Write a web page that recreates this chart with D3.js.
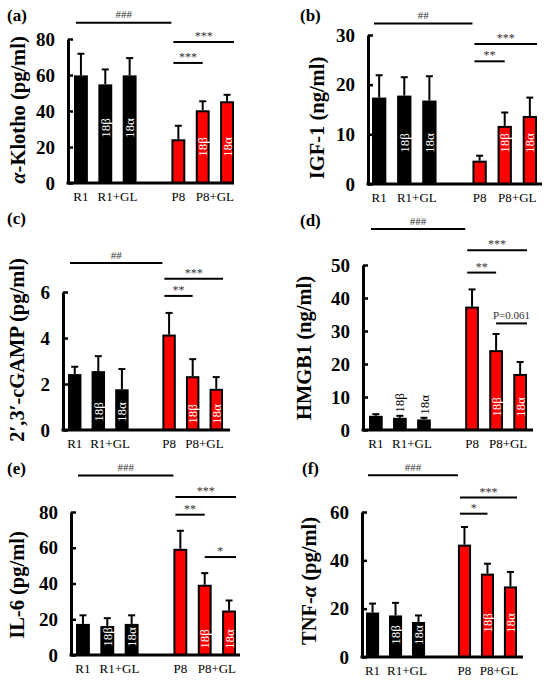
<!DOCTYPE html>
<html>
<head>
<meta charset="utf-8">
<script src="https://cdn.jsdelivr.net/npm/d3@7"></script>
<style>
body { margin: 0; background: #fff; }
</style>
</head>
<body>
<script>
// slots on the x axis, the 4th one is the empty gap between the two groups
var slots = ['R1', 'R1+GL 18β', 'R1+GL 18α', 'gap', 'P8', 'P8+GL 18β', 'P8+GL 18α'];
var barKeys = ['R1', 'R1+GL 18β', 'R1+GL 18α', 'P8', 'P8+GL 18β', 'P8+GL 18α'];
var barTags = ['', '18β', '18α', '', '18β', '18α'];
var groupLabels = ['R1', 'R1+GL', 'P8', 'P8+GL'];
var groupBars = [['R1'], ['R1+GL 18β', 'R1+GL 18α'], ['P8'], ['P8+GL 18β', 'P8+GL 18α']];

// (a) alpha-Klotho
var klothoMean = [59.8, 54.8, 59.8, 24.3, 40.4, 45.4];
var klothoSd = [12, 8.3, 9.6, 7.5, 5, 3.6];
var klothoTicks = [0, 20, 40, 60, 80];
var klothoSig = [['R1', 'P8', 89, '###'], ['P8', 'P8+GL 18α', 78.3, '***'], ['P8', 'P8+GL 18β', 66.7, '***']];

// (b) IGF-1
var igfMean = [17.4, 17.8, 16.8, 4.7, 11.7, 13.7];
var igfSd = [4.5, 3.7, 4.9, 1.0, 2.7, 3.7];
var igfTicks = [0, 10, 20, 30];
var igfSig = [['R1', 'P8', 32.3, '##'], ['P8', 'P8+GL 18α', 28.2, '***'], ['P8', 'P8+GL 18β', 24.7, '**']];

// (c) 2',3'-cGAMP
var cgampMean = [2.43, 2.56, 1.77, 4.15, 2.34, 1.79];
var cgampSd = [0.32, 0.65, 0.88, 0.94, 0.74, 0.51];
var cgampTicks = [0, 2, 4, 6];
var cgampSig = [['R1', 'P8', 7.26, '##'], ['P8', 'P8+GL 18α', 6.58, '***'], ['P8', 'P8+GL 18β', 5.83, '**']];

// (d) HMGB1
var hmgbMean = [4.3, 3.7, 3.2, 37.4, 24.2, 17];
var hmgbSd = [0.5, 0.6, 0.5, 5.2, 4.9, 3.6];
var hmgbTicks = [0, 10, 20, 30, 40, 50];
var hmgbSig = [['R1', 'P8', 60.9, '###'], ['P8', 'P8+GL 18α', 54.5, '***'], ['P8', 'P8+GL 18β', 47.7, '**'], ['P8+GL 18β', 'P8+GL 18α', 32.3, 'P=0.061']];

// (e) IL-6
var il6Mean = [17.4, 16.2, 17.4, 59.4, 39.3, 24.9];
var il6Sd = [4.8, 4.4, 4.8, 10.1, 6.5, 5.6];
var il6Ticks = [0, 20, 40, 60, 80];
var il6Sig = [['R1', 'P8', 100.4, '###'], ['P8', 'P8+GL 18α', 88.4, '***'], ['P8', 'P8+GL 18β', 78.5, '**'], ['P8+GL 18β', 'P8+GL 18α', 54.8, '*']];

// (f) TNF-alpha
var tnfMean = [18.4, 17.2, 14.5, 46.5, 34.5, 29.2];
var tnfSd = [3.7, 5.2, 2.7, 7.3, 4.1, 6];
var tnfTicks = [0, 20, 40, 60];
var tnfSig = [['R1', 'P8', 75.2, '###'], ['P8', 'P8+GL 18α', 66, '***'], ['P8', 'P8+GL 18β', 59.3, '*']];

var FONT = 'Liberation Serif, DejaVu Serif, serif';

var panels = [
	{title: '(a)', tx: 7, ty: 21, ax: 68, bx0: 74, bx1: 234, xEnd: 234, yTop: 39, yBot: 183,
	 label: [['α', 'italic'], ['-Klotho (pg/ml)', 'normal']], lx: 18, ly: 110, tagBlack: 55, tagRed: 36,
	 mean: klothoMean, sd: klothoSd, ticks: klothoTicks, sig: klothoSig},
	{title: '(b)', tx: 300, ty: 21, ax: 368, bx0: 372, bx1: 537, xEnd: 542, yTop: 35, yBot: 184,
	 label: [['IGF-1 (ng/ml)', 'normal']], lx: 317, ly: 118, tagBlack: 41, tagRed: 41,
	 mean: igfMean, sd: igfSd, ticks: igfTicks, sig: igfSig},
	{title: '(c)', tx: 7, ty: 224, ax: 63, bx0: 68, bx1: 223, xEnd: 230, yTop: 292, yBot: 430,
	 label: [['2′,3′-cGAMP (pg/ml)', 'normal']], lx: 17, ly: 350, tagBlack: 18, tagRed: 16,
	 mean: cgampMean, sd: cgampSd, ticks: cgampTicks, sig: cgampSig},
	{title: '(d)', tx: 300, ty: 226, ax: 363, bx0: 369, bx1: 527, xEnd: 533, yTop: 265, yBot: 430,
	 label: [['HMGB1 (ng/ml)', 'normal']], lx: 304, ly: 348, tagBlack: 'above', tagRed: 23,
	 mean: hmgbMean, sd: hmgbSd, ticks: hmgbTicks, sig: hmgbSig},
	{title: '(e)', tx: 7, ty: 474, ax: 71, bx0: 76, bx1: 236, xEnd: 240, yTop: 512, yBot: 655,
	 label: [['IL-6 (pg/ml)', 'normal']], lx: 17, ly: 585, tagBlack: 18, tagRed: 16,
	 mean: il6Mean, sd: il6Sd, ticks: il6Ticks, sig: il6Sig},
	{title: '(f)', tx: 302, ty: 474, ax: 362, bx0: 366, bx1: 517, xEnd: 523, yTop: 512, yBot: 657,
	 label: [['TNF-', 'normal'], ['α', 'italic'], [' (pg/ml)', 'normal']], lx: 309, ly: 581, tagBlack: 22, tagRed: 34,
	 mean: tnfMean, sd: tnfSd, ticks: tnfTicks, sig: tnfSig}
];

var svg = d3.select('body').append('svg')
	.attr('width', 550)
	.attr('height', 683)
	.attr('font-family', FONT);

svg.append('rect').attr('width', 550).attr('height', 683).attr('fill', '#fff');

function drawPanel(p){
	var g = svg.append('g');

	var x = d3.scaleBand()
		.domain(slots)
		.range([p.bx0, p.bx1])
		.paddingInner(0.43)
		.paddingOuter(0);
	var bw = x.bandwidth();

	var y = d3.scaleLinear()
		.domain([0, d3.max(p.ticks)])
		.range([p.yBot, p.yTop]);

	var rows = barKeys.map(function(k, i){
		return {key: k, mean: p.mean[i], sd: p.sd[i], tag: barTags[i], red: i > 2};
	});

	// error bars, upper half only
	var err = g.selectAll('g.err')
		.data(rows)
		.enter()
		.append('g')
		.attr('class', 'err');
	err.append('line')
		.attr('x1', function(d){ return x(d.key) + bw / 2; })
		.attr('x2', function(d){ return x(d.key) + bw / 2; })
		.attr('y1', function(d){ return y(d.mean); })
		.attr('y2', function(d){ return y(d.mean + d.sd); })
		.attr('stroke', 'black')
		.attr('stroke-width', 2);
	err.append('line')
		.attr('x1', function(d){ return x(d.key) + bw / 2 - 3.5; })
		.attr('x2', function(d){ return x(d.key) + bw / 2 + 3.5; })
		.attr('y1', function(d){ return y(d.mean + d.sd); })
		.attr('y2', function(d){ return y(d.mean + d.sd); })
		.attr('stroke', 'black')
		.attr('stroke-width', 2);

	g.selectAll('rect.bar')
		.data(rows)
		.enter()
		.append('rect')
		.attr('class', 'bar')
		.attr('x', function(d){ return x(d.key) + 1; })
		.attr('y', function(d){ return y(d.mean) + 1; })
		.attr('width', bw - 2)
		.attr('height', function(d){ return y(0) - y(d.mean) - 1; })
		.attr('fill', function(d){ return d.red ? '#ff0000' : '#000'; })
		.attr('stroke', 'black')
		.attr('stroke-width', 2);

	// 18beta / 18alpha tags written up the bars
	g.selectAll('text.tag')
		.data(rows.filter(function(d){ return d.tag != ''; }))
		.enter()
		.append('text')
		.attr('class', 'tag')
		.attr('transform', function(d){
			var cx = x(d.key) + bw / 2;
			var cy;
			if(!d.red && p.tagBlack == 'above'){
				cy = y(d.mean + d.sd) - 3;
				return 'translate(' + cx + ',' + cy + ') rotate(-90)';
			}
			cy = p.yBot - (d.red ? p.tagRed : p.tagBlack);
			return 'translate(' + cx + ',' + cy + ') rotate(-90)';
		})
		.attr('text-anchor', function(d){ return (!d.red && p.tagBlack == 'above') ? 'start' : 'middle'; })
		.attr('dy', '0.35em')
		.attr('font-family', FONT)
		.attr('font-size', '13px')
		.attr('fill', function(d){ return (!d.red && p.tagBlack == 'above') ? '#000' : '#fff'; })
		.text(function(d){ return d.tag; });

	// y axis with inward ticks
	var yAxis = d3.axisLeft(y)
		.tickValues(p.ticks)
		.tickFormat(d3.format('d'))
		.tickSizeInner(-5)
		.tickSizeOuter(0)
		.tickPadding(13);
	var ag = g.append('g')
		.attr('transform', 'translate(' + p.ax + ',0)')
		.call(yAxis)
		.attr('font-family', FONT);
	ag.select('.domain').attr('stroke-width', 3);
	ag.selectAll('.tick line').attr('stroke-width', 2.5);
	ag.selectAll('.tick text')
		.attr('font-size', '19px')
		.attr('font-weight', 'bold')
		.attr('font-family', FONT)
		.attr('fill', '#000');

	g.append('line')
		.attr('x1', p.ax - 1.5)
		.attr('x2', p.xEnd)
		.attr('y1', p.yBot)
		.attr('y2', p.yBot)
		.attr('stroke', 'black')
		.attr('stroke-width', 3);

	// group labels under the axis
	g.selectAll('text.grp')
		.data(groupLabels)
		.enter()
		.append('text')
		.attr('class', 'grp')
		.attr('x', function(d, i){
			return d3.mean(groupBars[i], function(k){ return x(k) + bw / 2; });
		})
		.attr('y', p.yBot + 18)
		.attr('text-anchor', 'middle')
		.attr('font-family', FONT)
		.attr('font-size', '13px')
		.text(function(d){ return d; });

	// significance lines
	var last = barKeys[barKeys.length - 1];
	var sg = g.selectAll('g.sig')
		.data(p.sig)
		.enter()
		.append('g')
		.attr('class', 'sig');
	function sx1(d){
		return (d[0] == 'R1' || d[0] == 'P8') ? x(d[0]) + 2 : x(d[0]) + bw / 2;
	}
	function sx2(d){
		if(d[1] == 'P8') return x(d[1]);
		if(d[1] == last) return x(d[1]) + bw;
		return x(d[1]) + bw / 2;
	}
	sg.append('line')
		.attr('x1', sx1)
		.attr('x2', sx2)
		.attr('y1', function(d){ return y(d[2]); })
		.attr('y2', function(d){ return y(d[2]); })
		.attr('stroke', 'black')
		.attr('stroke-width', 2);
	sg.append('text')
		.attr('x', function(d){ return (sx1(d) + sx2(d)) / 2; })
		.attr('y', function(d){
			if(d[3].indexOf('*') != -1) return y(d[2]) - 2;
			return y(d[2]) - 4.5;
		})
		.attr('text-anchor', 'middle')
		.attr('font-family', FONT)
		.attr('font-size', function(d){ return d[3].indexOf('*') != -1 ? '12px' : '11px'; })
		.attr('fill', '#333')
		.text(function(d){ return d[3]; });

	// panel letter
	g.append('text')
		.attr('x', p.tx)
		.attr('y', p.ty)
		.attr('font-family', FONT)
		.attr('font-size', '17px')
		.attr('font-weight', 'bold')
		.text(p.title);

	// y title
	var yl = g.append('text')
		.attr('transform', 'translate(' + p.lx + ',' + p.ly + ') rotate(-90)')
		.attr('text-anchor', 'middle')
		.attr('dy', '0.35em')
		.attr('font-family', FONT)
		.attr('font-size', '20.5px')
		.attr('font-weight', 'bold');
	for(let part of p.label){
		yl.append('tspan')
			.attr('font-style', part[1])
			.text(part[0]);
	}
}

for(let p of panels){
	drawPanel(p);
}
</script>
</body>
</html>
